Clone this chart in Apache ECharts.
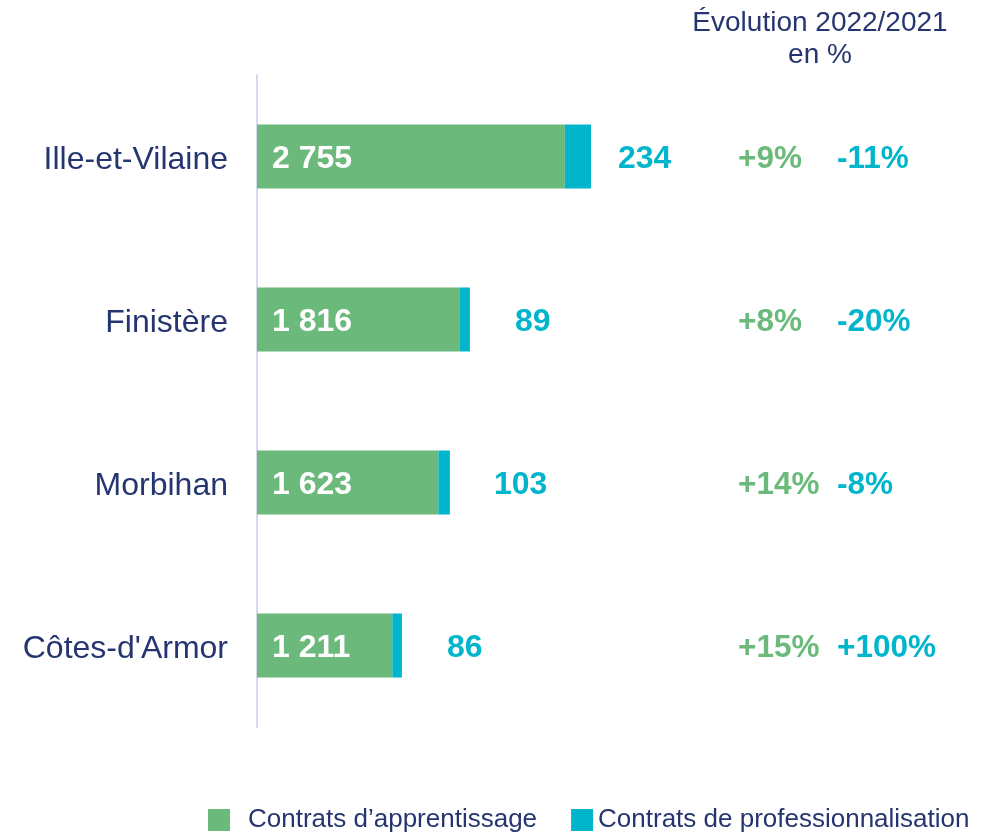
<!DOCTYPE html>
<html>
<head>
<meta charset="utf-8">
<script src="https://cdn.jsdelivr.net/npm/echarts@6/dist/echarts.min.js"></script>
<style>
html,body{margin:0;padding:0;background:#fff;}
#chart{width:1000px;height:835px;}
</style>
</head>
<body>
<div id="chart"></div>
<script>
// ---- Data ----
const categories = ['Ille-et-Vilaine', 'Finistère', 'Morbihan', "Côtes-d'Armor"];
const apprentissage = [2755, 1816, 1623, 1211];
const professionnalisation = [234, 89, 103, 86];
const evolApprentissage = [9, 8, 14, 15];
const evolProfessionnalisation = [-11, -20, -8, 100];
const seriesNames = ['Contrats d\u2019apprentissage', 'Contrats de professionnalisation'];
const headerText = 'Évolution 2022/2021\nen %';

// ---- Styles ----
const GREEN = '#6BBA7B';
const CYAN = '#00B5CC';
const NAVY = '#253570';
const FONT = 'Liberation Sans, Arial, sans-serif';
const proLabelDistance = [27, 45, 44, 45];

const fmtNum = v => String(v).replace(/\B(?=(\d{3})+(?!\d))/g, ' ');
const fmtPct = v => (v > 0 ? '+' : '') + v + '%';

// reversed order so the first category is at the top
const cats = categories.slice().reverse();
const app = apprentissage.slice().reverse();
const pro = professionnalisation.slice().reverse();
const evA = evolApprentissage.slice().reverse();
const evP = evolProfessionnalisation.slice().reverse();
const dist = proLabelDistance.slice().reverse();

const chart = echarts.init(document.getElementById('chart'));
chart.setOption({
  animation: false,
  textStyle: { fontFamily: FONT },
  grid: { left: 257, top: 75, bottom: 108, right: 296, containLabel: false },
  xAxis: {
    type: 'value', min: 0, max: 4000,
    show: false
  },
  yAxis: [
    {
      type: 'category', data: cats,
      axisLine: { show: true, lineStyle: { color: '#D6DAEE', width: 2 } },
      axisTick: { show: false },
      axisLabel: {
        margin: 29,
        formatter: v => '{n|' + v + '}',
        rich: { n: { color: NAVY, fontSize: 32, fontFamily: FONT, padding: [7, 0, 0, 0] } }
      }
    },
    {
      type: 'category', data: cats, position: 'right',
      axisLine: { show: false }, axisTick: { show: false },
      axisLabel: {
        margin: 34, align: 'left', padding: [5, 0, 0, 0],
        formatter: (val, idx) => '{g|' + fmtPct(evA[idx]) + '}{c|' + fmtPct(evP[idx]) + '}',
        rich: {
          g: { color: GREEN, fontSize: 31.5, fontWeight: 'bold', fontFamily: FONT, width: 99 },
          c: { color: CYAN, fontSize: 31.5, fontWeight: 'bold', fontFamily: FONT }
        }
      }
    }
  ],
  legend: {
    left: 203, bottom: -3,
    itemWidth: 22, itemHeight: 22, itemGap: 34,
    icon: 'rect',
    textStyle: { color: NAVY, fontSize: 26, fontFamily: FONT },
    data: [
      { name: seriesNames[0], textStyle: { padding: [0, 0, 0, 13] } },
      { name: seriesNames[1], textStyle: { padding: [0, 0, 0, 0] } }
    ]
  },
  graphic: [{
    type: 'text', x: 820, y: 7,
    style: {
      text: headerText, fill: NAVY, font: '28px ' + FONT,
      align: 'center', verticalAlign: 'top', lineHeight: 32
    }
  }],
  series: [
    {
      name: seriesNames[0], type: 'bar', stack: 'total', barWidth: 64,
      itemStyle: { color: GREEN },
      label: {
        show: true, position: 'insideLeft', distance: 15, offset: [0, 3],
        color: '#fff', fontSize: 32, fontWeight: 'bold', fontFamily: FONT,
        formatter: p => fmtNum(p.value)
      },
      data: app
    },
    {
      name: seriesNames[1], type: 'bar', stack: 'total', barWidth: 64,
      itemStyle: { color: CYAN },
      label: {
        show: true, position: 'right', offset: [0, 3],
        color: CYAN, fontSize: 32, fontWeight: 'bold', fontFamily: FONT,
        formatter: p => fmtNum(p.value)
      },
      data: pro.map((v, i) => ({ value: v, label: { distance: dist[i] } }))
    }
  ]
});
</script>
</body>
</html>
